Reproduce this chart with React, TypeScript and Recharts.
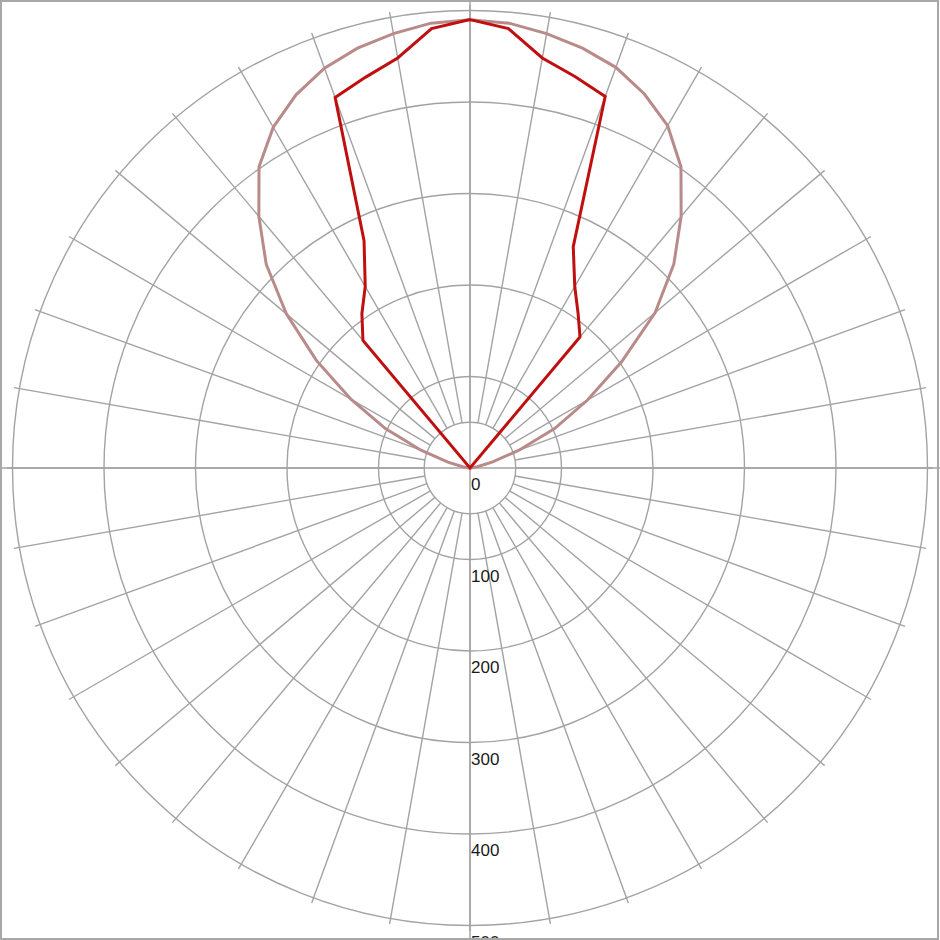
import { RadarChart, Radar, PolarGrid, PolarAngleAxis, PolarRadiusAxis } from 'recharts'

// gamma angle in degrees, clockwise from the top of the diagram
const gamma = [
  0, 5, 10, 15, 20, 25, 30, 35, 40, 45, 50, 55, 60, 65, 70, 75, 80, 85,
  90, 95, 100, 105, 110, 115, 120, 125, 130, 135, 140, 145, 150, 155, 160, 165, 170, 175,
  180, 185, 190, 195, 200, 205, 210, 215, 220, 225, 230, 235, 240, 245, 250, 255, 260, 265,
  270, 275, 280, 285, 290, 295, 300, 305, 310, 315, 320, 325, 330, 335, 340, 345, 350, 355,
]

// C0-C180 plane (dark red)
const redPlane = [
  490, 482, 455, 443, 432, 267, 229, 206, 187, 0, 0, 0, 0, 0, 0, 0, 0, 0,
  0, 0, 0, 0, 0, 0, 0, 0, 0, 0, 0, 0, 0, 0, 0, 0, 0, 0,
  0, 0, 0, 0, 0, 0, 0, 0, 0, 0, 0, 0, 0, 0, 0, 0, 0, 0,
  0, 0, 0, 0, 0, 0, 0, 0, 0, 0, 182, 206, 229, 274, 431, 442, 455, 482,
]

// C90-C270 plane (light)
const pinkPlane = [
  490, 488, 482, 475, 466, 451, 432, 402, 359, 315, 264, 202, 148, 102, 57, 25, 8, 1,
  0, 0, 0, 0, 0, 0, 0, 0, 0, 0, 0, 0, 0, 0, 0, 0, 0, 0,
  0, 0, 0, 0, 0, 0, 0, 0, 0, 0, 0, 0, 0, 0, 0, 0, 0, 0,
  0, 1, 8, 25, 57, 102, 150, 205, 262, 315, 359, 402, 430, 450, 465, 475, 482, 488,
]

const ringTicks = [0, 50, 100, 200, 300, 400, 500]
const spokeAngles = [
  0, 10, 20, 30, 40, 50, 60, 70, 80, 90, 100, 110, 120, 130, 140, 150, 160, 170,
  180, 190, 200, 210, 220, 230, 240, 250, 260, 270, 280, 290, 300, 310, 320, 330, 340, 350,
]
const axisAngles = [0, 90, 180, 270]

const data = gamma.map((g, i) => ({ gamma: g, red: redPlane[i], pink: pinkPlane[i] }))

const W = 940
const H = 940
const CX = 470
const CY = 468
const PX = 0.915 // pixels per cd/klm
const GRID = '#a3a3a3'

const RingLabel = (props: any) => {
  const { x, y, payload } = props
  if (payload.value === 50) return <g />
  return (
    <text
      x={x + 1}
      y={y + 22}
      fontSize={17}
      fontFamily="'Liberation Sans', Arial, sans-serif"
      fill="#1a1a1a"
      textAnchor="start"
    >
      {payload.value}
    </text>
  )
}

export default function App() {
  return (
    <div style={{ position: 'absolute', left: 0, top: 0, width: W, height: H, overflow: 'hidden', background: '#fff' }}>
      {/* full-length horizontal / vertical axes through the centre */}
      <div style={{ position: 'absolute', left: 0, top: 0 }}>
        <RadarChart width={W} height={H} cx={CX} cy={CY} outerRadius={480} data={data}
          margin={{ top: 0, right: 0, bottom: 0, left: 0 }}>
          <PolarGrid gridType="circle" polarAngles={axisAngles} polarRadius={[]} stroke={GRID} strokeWidth={1.4} />
        </RadarChart>
      </div>
      <div style={{ position: 'absolute', left: 0, top: 0 }}>
        <RadarChart width={W} height={H} cx={CX} cy={CY}
          innerRadius={50 * PX} outerRadius={506 * PX}
          startAngle={90} endAngle={-270} data={data}
          margin={{ top: 0, right: 0, bottom: 0, left: 0 }}>
          <PolarGrid gridType="circle" polarAngles={spokeAngles} stroke={GRID} strokeWidth={1.4} />
          <PolarAngleAxis dataKey="gamma" tick={false} axisLine={false} tickLine={false} />
          <PolarRadiusAxis angle={-90} domain={[50, 506]} allowDataOverflow type="number"
            ticks={ringTicks} tick={RingLabel} axisLine={false} tickLine={false} />
          <Radar dataKey="pink" stroke="#b98a8a" strokeWidth={3} fill="none" fillOpacity={0}
            dot={false} isAnimationActive={false} />
          <Radar dataKey="red" stroke="#bf0f0f" strokeWidth={3} fill="none" fillOpacity={0}
            dot={false} isAnimationActive={false} />
        </RadarChart>
      </div>
      <div style={{
        position: 'absolute', left: 0, top: 0, width: 939, height: 940,
        boxSizing: 'border-box', border: '2px solid #a8a8a8', pointerEvents: 'none',
      }} />
    </div>
  )
}
